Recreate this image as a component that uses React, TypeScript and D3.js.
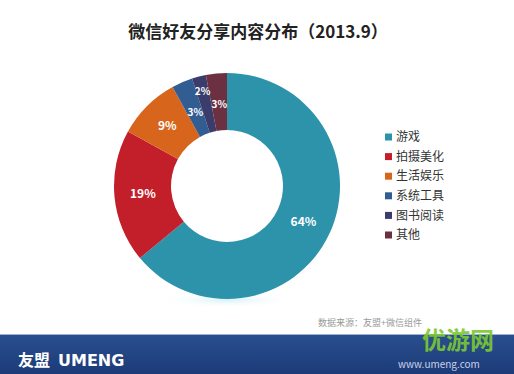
import React from "react";
import * as d3 from "d3";

const categories = ["游戏", "拍摄美化", "生活娱乐", "系统工具", "图书阅读", "其他"];
const values = [64, 19, 9, 3, 2, 3];
const colors = ["#2d93ab", "#c21f2b", "#d8651c", "#325d93", "#3a3c6c", "#6b3140"];
const title = "微信好友分享内容分布（2013.9）";
const sourceText = "数据来源：友盟+微信组件";

export default function App() {
  const W = 514, H = 374;
  const cx = 227, cy = 186, rOuter = 113, rInner = 56;
  const pie = d3.pie<number>().sort(null).value((d) => d)(values);
  const arc = d3.arc<d3.PieArcDatum<number>>().innerRadius(rInner).outerRadius(rOuter);
  const labelR = [84.5, 84.5, 84.5, 80, 98, 82];
  const legendY = d3.scalePoint<string>().domain(categories).range([137, 235]);
  const font = "'Noto Sans CJK SC', 'Noto Sans', sans-serif";

  return (
    <svg width={W} height={H} style={{ position: "absolute", left: 0, top: 0, background: "#fff" }} fontFamily={font}>
      <defs>
        <linearGradient id="band" x1="0" y1="0" x2="0" y2="1">
          <stop offset="0" stopColor="#2a4f8e" />
          <stop offset="1" stopColor="#1c3a78" />
        </linearGradient>
        <radialGradient id="shadow">
          <stop offset="0" stopColor="#cfeef5" stopOpacity="0.8" />
          <stop offset="1" stopColor="#ffffff" stopOpacity="0" />
        </radialGradient>
      </defs>
      <rect width={W} height={H} fill="#fff" />
      <text x={258} y={38} textAnchor="middle" fontSize={17} fontWeight="bold" fill="#222">{title}</text>
      <ellipse cx={cx} cy={300} rx={70} ry={8} fill="url(#shadow)" />
      <g transform={`translate(${cx},${cy})`}>
        {pie.map((p, i) => (
          <path key={i} d={arc(p) || ""} fill={colors[i]} />
        ))}
        {pie.map((p, i) => {
          const a = (p.startAngle + p.endAngle) / 2;
          const r = labelR[i];
          const x = r * Math.sin(a);
          const y = -r * Math.cos(a);
          const small = values[i] < 5;
          return (
            <text key={"l" + i} x={x} y={y} dy="0.35em" textAnchor="middle" fontSize={small ? 10 : 12} fontWeight="bold" fill="#fff">
              {values[i]}%
            </text>
          );
        })}
      </g>
      <g>
        {categories.map((c, i) => (
          <g key={c} transform={`translate(385,${legendY(c)})`}>
            <rect x={0} y={-3.5} width={7} height={7} fill={colors[i]} />
            <text x={11} y={0} dy="0.35em" fontSize={12} fill="#333">{c}</text>
          </g>
        ))}
      </g>
      <text x={318} y={326} fontSize={9} fill="#999">{sourceText}</text>
      <rect x={0} y={334} width={W} height={1} fill="#9fb3d1" />
      <rect x={0} y={335} width={W} height={H - 335} fill="url(#band)" />
      <text x={18} y={366} fontSize={16} fontWeight="bold" fill="#fff">友盟</text>
      <text x={58} y={366} fontSize={16} fontWeight="bold" fill="#fff" fontFamily="'DejaVu Sans', sans-serif">UMENG</text>
      <text x={398} y={368} fontSize={10} fill="#c8d2e6">www.umeng.com</text>
      <text x={422} y={349} fontSize={24} fontWeight="bold" fill="#7cc832" opacity={0.9}>优游网</text>
    </svg>
  );
}
